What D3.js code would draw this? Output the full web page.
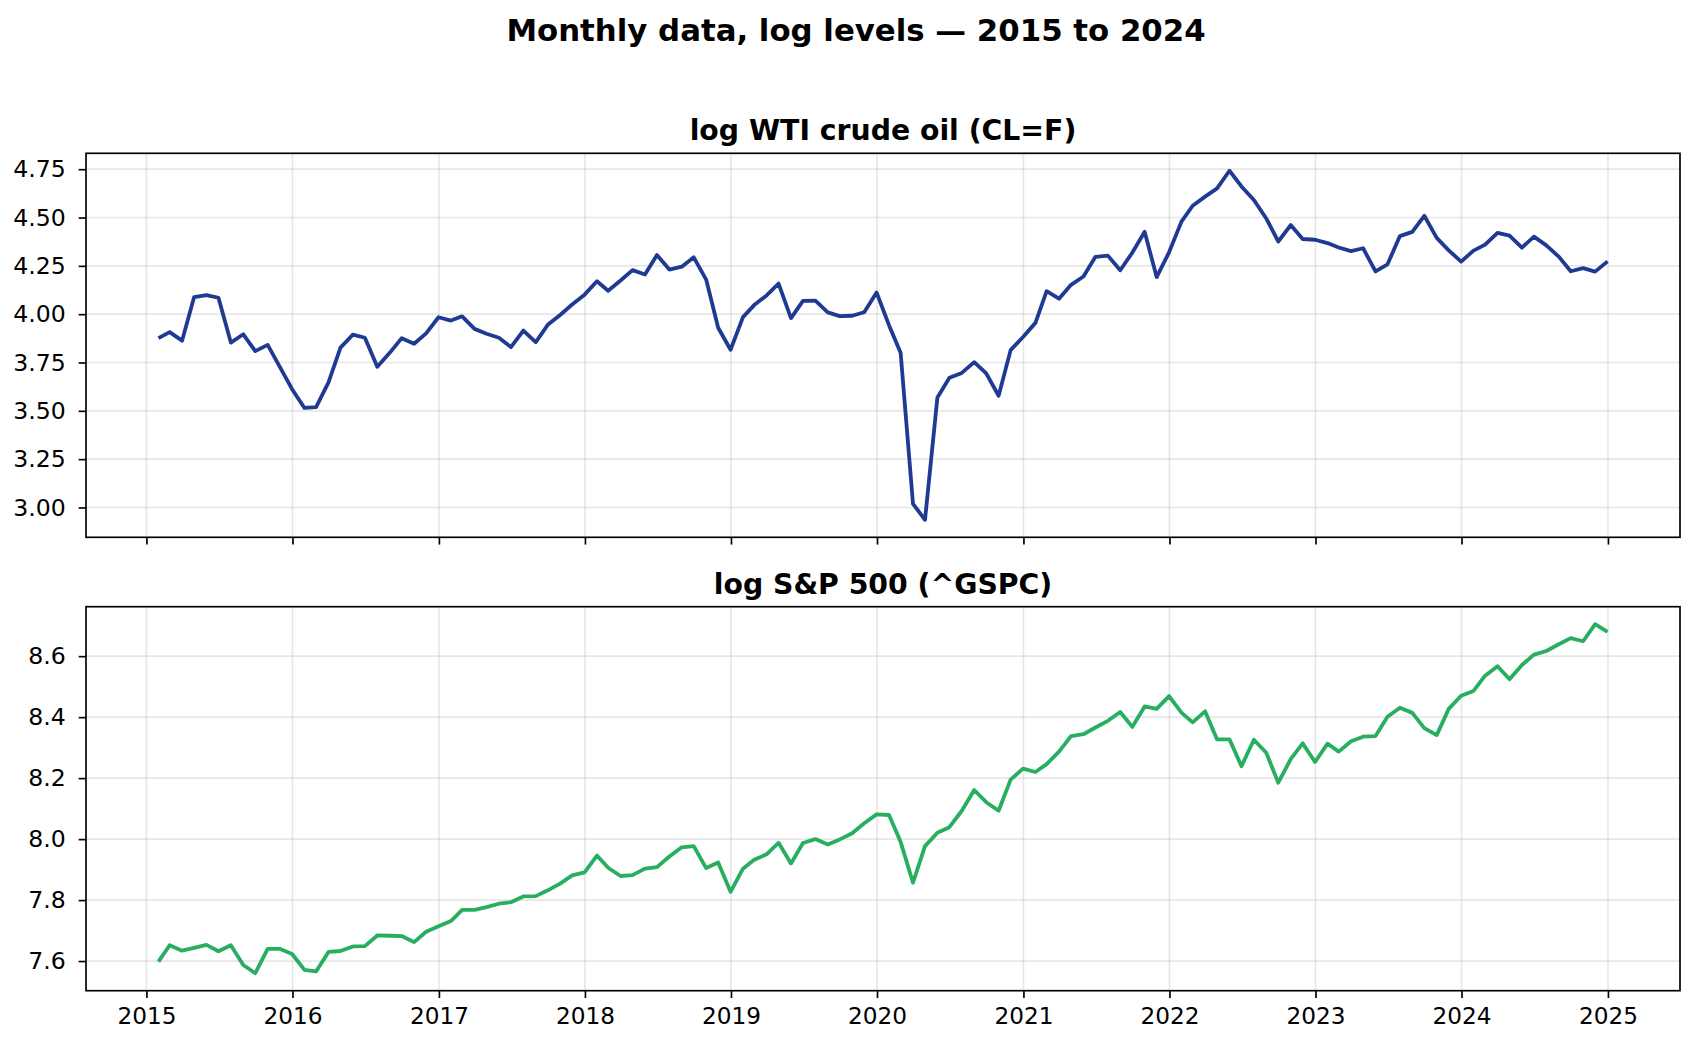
<!DOCTYPE html>
<html lang="en">
<head>
<meta charset="UTF-8">
<title>Monthly data, log levels</title>
<script src="https://cdn.jsdelivr.net/npm/d3@7/dist/d3.min.js"></script>
<style>
  body { margin: 0; background: #fff; }
  text { font-family: "DejaVu Sans", sans-serif; }
</style>
</head>
<body>
<div id="container"></div>
<script>
// month-end observations, Jan 2015 .. Dec 2024
const months = d3.timeMonth.range(new Date(2015, 1, 1), new Date(2025, 1, 1))
    .map(d => d3.timeDay.offset(d, -1));

// log WTI crude oil (CL=F), month-end close
const wtiLog = [
  3.876, 3.907, 3.863, 4.088, 4.099, 4.085, 3.853, 3.896, 3.809, 3.841, 3.729, 3.612, // 2015
  3.515, 3.519, 3.647, 3.827, 3.894, 3.878, 3.728, 3.800, 3.876, 3.847, 3.901, 3.984, // 2016
  3.967, 3.989, 3.924, 3.899, 3.878, 3.830, 3.915, 3.855, 3.945, 3.996, 4.050, 4.101, // 2017
  4.170, 4.121, 4.174, 4.228, 4.205, 4.306, 4.231, 4.246, 4.294, 4.179, 3.930, 3.816, // 2018
  3.985, 4.047, 4.097, 4.158, 3.980, 4.069, 4.070, 4.009, 3.990, 3.992, 4.010, 4.112, // 2019
  3.943, 3.801, 3.019, 2.936, 3.569, 3.671, 3.696, 3.752, 3.694, 3.578, 3.814, 3.882, // 2020
  3.955, 4.119, 4.080, 4.152, 4.195, 4.297, 4.303, 4.227, 4.318, 4.426, 4.192, 4.320, // 2021
  4.479, 4.561, 4.608, 4.651, 4.742, 4.661, 4.591, 4.495, 4.376, 4.461, 4.389, 4.385, // 2022
  4.368, 4.345, 4.326, 4.341, 4.221, 4.258, 4.404, 4.426, 4.509, 4.395, 4.330, 4.272, // 2023
  4.329, 4.360, 4.421, 4.406, 4.344, 4.401, 4.356, 4.298, 4.222, 4.238, 4.220, 4.273  // 2024
];

// log S&P 500 (^GSPC), month-end close
const spxLog = [
  7.598, 7.652, 7.634, 7.643, 7.653, 7.632, 7.652, 7.587, 7.560, 7.640, 7.640, 7.623, // 2015
  7.571, 7.566, 7.630, 7.633, 7.648, 7.649, 7.684, 7.683, 7.682, 7.662, 7.696, 7.714, // 2016
  7.731, 7.768, 7.768, 7.777, 7.788, 7.793, 7.812, 7.813, 7.832, 7.854, 7.881, 7.891, // 2017
  7.946, 7.906, 7.879, 7.882, 7.903, 7.908, 7.943, 7.973, 7.977, 7.905, 7.923, 7.827, // 2018
  7.903, 7.932, 7.950, 7.988, 7.920, 7.987, 8.000, 7.982, 7.999, 8.019, 8.052, 8.081, // 2019
  8.079, 7.991, 7.857, 7.977, 8.021, 8.039, 8.093, 8.161, 8.121, 8.093, 8.195, 8.231, // 2020
  8.220, 8.246, 8.287, 8.338, 8.344, 8.366, 8.388, 8.417, 8.368, 8.435, 8.427, 8.469, // 2021
  8.415, 8.383, 8.419, 8.327, 8.327, 8.239, 8.326, 8.283, 8.185, 8.262, 8.314, 8.253, // 2022
  8.313, 8.287, 8.321, 8.336, 8.338, 8.401, 8.431, 8.414, 8.364, 8.341, 8.427, 8.470, // 2023
  8.486, 8.536, 8.567, 8.524, 8.571, 8.605, 8.617, 8.639, 8.659, 8.649, 8.705, 8.680  // 2024
];

const yearTicks = d3.range(2015, 2026).map(y => new Date(y, 0, 1));
const wtiTicks = [3.00, 3.25, 3.50, 3.75, 4.00, 4.25, 4.50, 4.75];
const spxTicks = [7.6, 7.8, 8.0, 8.2, 8.4, 8.6];

const W = 1697, H = 1048;
const left = 86, right = 1680;
const panelH = 384;
const tickLen = 7.3;

let svg = d3.select('#container')
    .append('svg')
    .attr('width', W)
    .attr('height', H);

// suptitle
svg.append('text')
    .attr('x', 856)
    .attr('y', 41)
    .attr('text-anchor', 'middle')
    .style('font-size', '30.8px')
    .style('font-weight', 'bold')
    .text('Monthly data, log levels \u2014 2015 to 2024');

// shared x scale with matplotlib style 5% margins
let span = months[months.length - 1] - months[0];
let x = d3.scaleTime()
    .domain([new Date(+months[0] - span * 0.05), new Date(+months[months.length - 1] + span * 0.05)])
    .range([left, right]);

function drawPanel(top, values, color, title, yTicks, fmt, showXLabels) {
    let ext = d3.extent(values);
    let pad = (ext[1] - ext[0]) * 0.05;
    let y = d3.scaleLinear()
        .domain([ext[0] - pad, ext[1] + pad])
        .range([top + panelH, top]);

    let g = svg.append('g');

    // grid
    g.selectAll('.vgrid').data(yearTicks).enter().append('line')
        .attr('x1', d => x(d)).attr('x2', d => x(d))
        .attr('y1', top).attr('y2', top + panelH)
        .attr('stroke', '#b0b0b0').attr('stroke-opacity', 0.3).attr('stroke-width', 1.67);
    g.selectAll('.hgrid').data(yTicks).enter().append('line')
        .attr('x1', left).attr('x2', right)
        .attr('y1', d => y(d)).attr('y2', d => y(d))
        .attr('stroke', '#b0b0b0').attr('stroke-opacity', 0.3).attr('stroke-width', 1.67);

    // series line
    let line = d3.line()
        .x((d, i) => x(months[i]))
        .y(d => y(d));
    g.append('path')
        .datum(values)
        .attr('d', line)
        .attr('fill', 'none')
        .attr('stroke', color)
        .attr('stroke-width', 3.8)
        .attr('stroke-linejoin', 'round');

    // frame
    g.append('rect')
        .attr('x', left).attr('y', top)
        .attr('width', right - left).attr('height', panelH)
        .attr('fill', 'none').attr('stroke', '#000').attr('stroke-width', 1.67);

    // y axis
    let yAxis = d3.axisLeft(y).tickValues(yTicks).tickFormat(d3.format(fmt))
        .tickSizeInner(tickLen).tickSizeOuter(0).tickPadding(13);
    let ya = g.append('g').attr('transform', 'translate(' + left + ',0)').call(yAxis);
    ya.select('.domain').remove();
    ya.selectAll('line').attr('stroke-width', 1.67);
    ya.selectAll('text').style('font-size', '23.6px').attr('fill', '#000')
        .attr('font-family', 'DejaVu Sans');

    // x axis
    let xAxis = d3.axisBottom(x).tickValues(yearTicks).tickFormat(d3.timeFormat('%Y'))
        .tickSizeInner(tickLen).tickSizeOuter(0).tickPadding(10);
    let xa = g.append('g').attr('transform', 'translate(0,' + (top + panelH) + ')').call(xAxis);
    xa.select('.domain').remove();
    xa.selectAll('line').attr('stroke-width', 1.67);
    xa.selectAll('text').style('font-size', '23.2px').attr('fill', '#000')
        .attr('font-family', 'DejaVu Sans');
    if (!showXLabels) xa.selectAll('text').remove();

    // panel title
    g.append('text')
        .attr('x', (left + right) / 2)
        .attr('y', top - 13)
        .attr('text-anchor', 'middle')
        .style('font-size', '28.3px')
        .style('font-weight', 'bold')
        .text(title);
}

drawPanel(153.3, wtiLog, '#1f3a93', 'log WTI crude oil (CL=F)', wtiTicks, '.2f', false);
drawPanel(606.7, spxLog, '#27ae60', 'log S&P 500 (^GSPC)', spxTicks, '.1f', true);
</script>
</body>
</html>
